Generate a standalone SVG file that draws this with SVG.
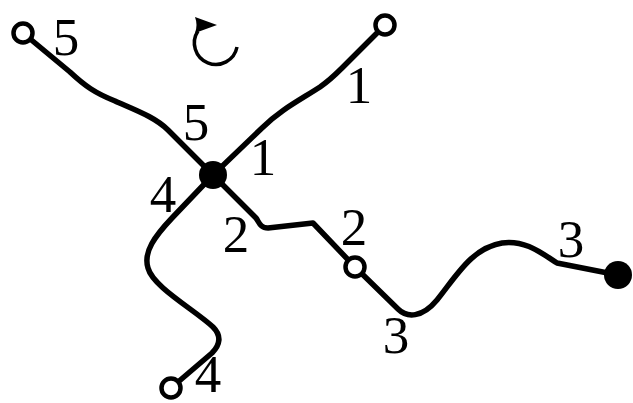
<svg xmlns="http://www.w3.org/2000/svg" width="633" height="403" viewBox="0 0 633 403">
<style>
.edge{fill:none;stroke:#000;stroke-width:5.5;stroke-linejoin:round}
.open{fill:#fff;stroke:#000;stroke-width:4.5}
.full{fill:#000;stroke:none}
.lbl{font-family:"Liberation Serif","Times New Roman","DejaVu Serif",serif;font-size:53px;fill:#000;text-anchor:middle}
</style>
<rect width="633" height="403" fill="#fff"/>
<g id="connectors">
<path class="edge" d="M23,33 L70,72 C85,86 95,93 115,101 C135,110 155,117 168,130 L213,175"/>
<path class="edge" d="M213,175 L262,128 C280,110 300,100 320,87 C330,80 336,74 342,68 L385,25"/>
<path class="edge" d="M213,175 L172,218 C155,236 143,252 148,268 C153,287 195,310 213,327 C222,336 220,345 212,353 L171,388"/>
<path class="edge" d="M213,175 L256,218 C259,222 260,228 268,228 L313,223 L355,267"/>
<path class="edge" d="M355,267 L398,309 C407,318 422,318 437,300 C457,275 472,248 502,243 C525,240 540,252 557,263 L618,275"/>
</g>
<g id="rotation">
<path d="M237,47 A21.5,21.5 0 1 1 198,31" fill="none" stroke="#000" stroke-width="3.5"/>
<path d="M195,17 L217,25 L195,33 Q198,25 195,17 Z" fill="#000"/>
</g>
<g id="n-center"><circle class="full" cx="213" cy="175" r="14"/></g>
<g id="n-tl"><circle class="open" cx="23" cy="33" r="9.5"/></g>
<g id="n-tr"><circle class="open" cx="385" cy="25" r="9.5"/></g>
<g id="n-bl"><circle class="open" cx="171" cy="388" r="9.5"/></g>
<g id="n-mid"><circle class="open" cx="355" cy="267" r="9.5"/></g>
<g id="n-right"><circle class="full" cx="618" cy="275" r="14"/></g>
<g id="labels">
<text class="lbl" x="66" y="55">5</text>
<text class="lbl" x="196" y="140">5</text>
<text class="lbl" x="263" y="175">1</text>
<text class="lbl" x="359" y="103">1</text>
<text class="lbl" x="163" y="212">4</text>
<text class="lbl" x="208" y="392">4</text>
<text class="lbl" x="236" y="252">2</text>
<text class="lbl" x="354" y="245">2</text>
<text class="lbl" x="396" y="353">3</text>
<text class="lbl" x="571" y="257">3</text>
</g>
</svg>
